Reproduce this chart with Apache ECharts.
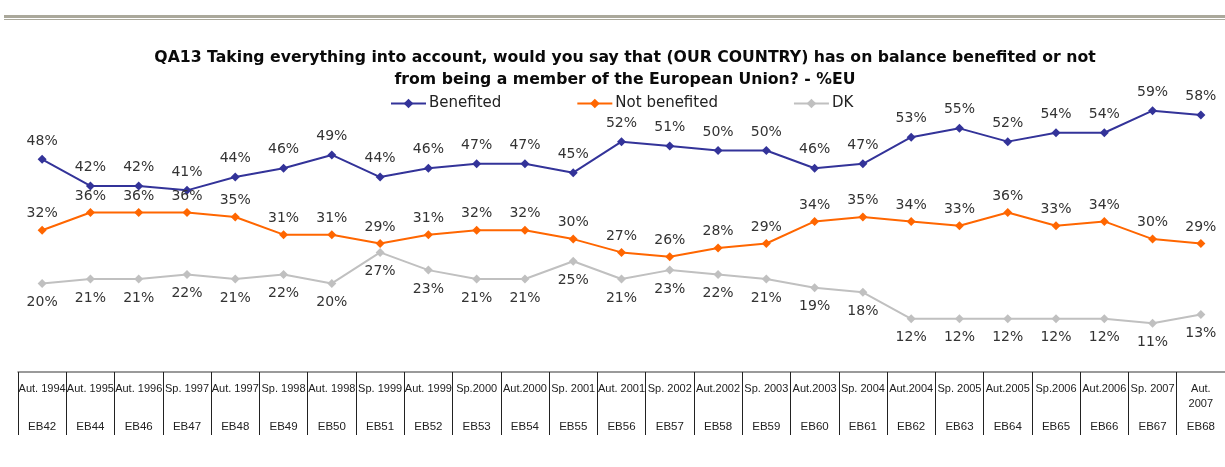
<!DOCTYPE html>
<html>
<head>
<meta charset="utf-8">
<style>
  html, body { margin: 0; padding: 0; background: #ffffff; }
  #chart { width: 1225px; height: 467px; }
</style>
<script src="https://cdn.jsdelivr.net/npm/echarts@6/dist/echarts.min.js"></script>
</head>
<body>
<div id="chart"></div>
<script>
// Survey waves: fieldwork period and Eurobarometer number
const waves = ['Aut. 1994', 'Aut. 1995', 'Aut. 1996', 'Sp. 1997', 'Aut. 1997', 'Sp. 1998', 'Aut. 1998', 'Sp. 1999',
  'Aut. 1999', 'Sp.2000', 'Aut.2000', 'Sp. 2001', 'Aut. 2001', 'Sp. 2002', 'Aut.2002', 'Sp. 2003', 'Aut.2003',
  'Sp. 2004', 'Aut.2004', 'Sp. 2005', 'Aut.2005', 'Sp.2006', 'Aut.2006', 'Sp. 2007', 'Aut.\n2007'];
const ebCodes = ['EB42', 'EB44', 'EB46', 'EB47', 'EB48', 'EB49', 'EB50', 'EB51', 'EB52', 'EB53', 'EB54', 'EB55',
  'EB56', 'EB57', 'EB58', 'EB59', 'EB60', 'EB61', 'EB62', 'EB63', 'EB64', 'EB65', 'EB66', 'EB67', 'EB68'];

// Answers in % of EU respondents
const benefited    = [48, 42, 42, 41, 44, 46, 49, 44, 46, 47, 47, 45, 52, 51, 50, 50, 46, 47, 53, 55, 52, 54, 54, 59, 58];
const notBenefited = [32, 36, 36, 36, 35, 31, 31, 29, 31, 32, 32, 30, 27, 26, 28, 29, 34, 35, 34, 33, 36, 33, 34, 30, 29];
const dontKnow     = [20, 21, 21, 22, 21, 22, 20, 27, 23, 21, 21, 25, 21, 23, 22, 21, 19, 18, 12, 12, 12, 12, 12, 11, 13];

const chart = echarts.init(document.getElementById('chart'), null, { renderer: 'canvas' });

const labelFont = { fontFamily: 'DejaVu Sans', fontSize: 14, color: '#333333' };

function lineSeries(name, values, color, labelPos, dist) {
  return {
    name: name,
    type: 'line',
    data: values,
    xAxisIndex: 0,
    symbol: 'diamond',
    symbolSize: 9,
    lineStyle: { color: color, width: 2 },
    itemStyle: { color: color },
    label: Object.assign({ show: true, position: labelPos, distance: dist, formatter: '{c}%' }, labelFont),
    emphasis: { disabled: true },
    animation: false
  };
}

chart.setOption({
  backgroundColor: '#ffffff',
  animation: false,
  title: {
    text: 'QA13 Taking everything into account, would you say that (OUR COUNTRY) has on balance benefited or not\nfrom being a member of the European Union? - %EU',
    left: 620,
    top: 42,
    textAlign: 'center',
    textStyle: { fontFamily: 'DejaVu Sans', fontWeight: 'bold', fontSize: 15.7, lineHeight: 22, color: '#0a0a0a' }
  },
  legend: {
    left: 385,
    top: 91,
    itemWidth: 35,
    itemHeight: 12,
    itemGap: 75,
    textStyle: { fontFamily: 'DejaVu Sans', fontSize: 15, color: '#222222', padding: [0, 0, 0, -2] },
    data: ['Benefited', 'Not benefited', 'DK']
  },
  grid: { left: 18, top: 106.2, width: 1213.75, bottom: 95, containLabel: false },
  xAxis: [
    {
      type: 'category',
      data: waves,
      position: 'bottom',
      boundaryGap: true,
      axisLine: { show: true, lineStyle: { color: '#7a7a7a', width: 1.5 } },
      axisTick: { show: true, interval: 0, length: 63, lineStyle: { color: '#222222', width: 1 } },
      axisLabel: { interval: 0, margin: 9.5, lineHeight: 15, fontFamily: 'Liberation Sans', fontSize: 11, color: '#222222' }
    },
    {
      type: 'category',
      data: ebCodes,
      position: 'bottom',
      boundaryGap: true,
      axisLine: { show: false },
      axisTick: { show: false },
      axisLabel: { interval: 0, margin: 47.5, lineHeight: 15, fontFamily: 'Liberation Sans', fontSize: 11.5, color: '#222222' }
    }
  ],
  yAxis: { type: 'value', min: 0, max: 60, show: false, splitLine: { show: false } },
  series: [
    lineSeries('Benefited', benefited, '#333399', 'top', 7),
    lineSeries('Not benefited', notBenefited, '#ff6600', 'top', 5),
    lineSeries('DK', dontKnow, '#c0c0c0', 'bottom', 7.5)
  ],
  graphic: [
    { type: 'rect', shape: { x: 4, y: 15, width: 1221, height: 3 }, style: { fill: '#aaa89b' }, silent: true },
    { type: 'rect', shape: { x: 4, y: 19, width: 1221, height: 1 }, style: { fill: '#aaa89b' }, silent: true }
  ]
});
</script>
</body>
</html>
